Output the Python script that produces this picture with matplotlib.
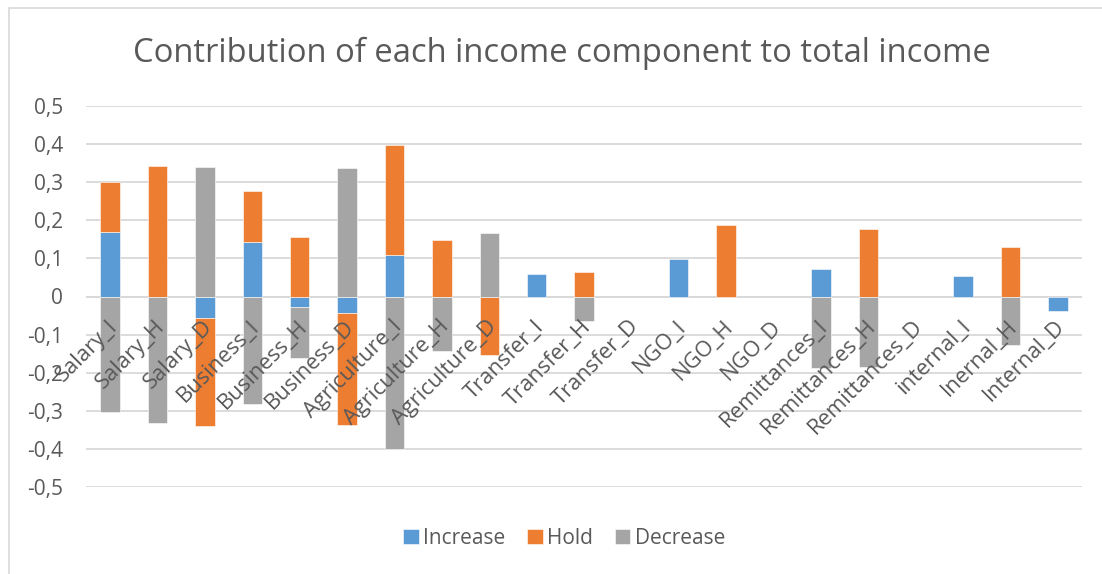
import numpy as np
import matplotlib.pyplot as plt
from matplotlib.patches import Rectangle

categories = ["Salary_I", "Salary_H", "Salary_D",
              "Business_I", "Business_H", "Business_D",
              "Agriculture_I", "Agriculture_H", "Agriculture_D",
              "Transfer_I", "Transfer_H", "Transfer_D",
              "NGO_I", "NGO_H", "NGO_D",
              "Remittances_I", "Remittances_H", "Remittances_D",
              "internal_I", "Inernal_H", "Internal_D"]

increase = [0.169, 0, -0.056, 0.142, -0.027, -0.043, 0.110, 0, 0,
            0.058, 0, 0, 0.098, 0, 0, 0.071, 0, 0, 0.055, 0, -0.037]
hold = [0.131, 0.343, -0.285, 0.135, 0.157, -0.293, 0.287, 0.149, -0.153,
        0, 0.063, 0, 0, 0.188, 0, 0, 0.178, 0, 0, 0.129, 0]
decrease = [-0.304, -0.333, 0.340, -0.282, -0.135, 0.336, -0.400, -0.142, 0.167,
            0, -0.064, 0, 0, 0, 0, -0.188, -0.185, 0, 0, -0.128, 0]

series = [("Increase", increase, "#5B9BD5"),
          ("Hold", hold, "#ED7D31"),
          ("Decrease", decrease, "#A5A5A5")]

yticks = [-0.5, -0.4, -0.3, -0.2, -0.1, 0, 0.1, 0.2, 0.3, 0.4, 0.5]

plt.rcParams['font.family'] = ['Open Sans', 'DejaVu Sans']
txt = "#595959"

fig = plt.figure(figsize=(11.02, 5.74), dpi=100)
ax = fig.add_axes([86.5 / 1102, 1 - 487 / 574, (1081.5 - 86.5) / 1102, (487 - 106) / 574])

# chart border like excel
fig.patches.append(Rectangle((9 / 1102, -0.05), 1.2, 1 - 8 / 574 + 0.05,
                             transform=fig.transFigure, fill=False,
                             edgecolor="#D9D9D9", lw=1.2))

x = np.arange(len(categories))
pos_base = np.zeros(len(categories))
neg_base = np.zeros(len(categories))
for name, vals, col in series:
    v = np.array(vals)
    bottom = np.where(v >= 0, pos_base, neg_base)
    nz = v != 0   # skip empty segments (avoid white slivers)
    ax.bar(x[nz], v[nz], 0.41, bottom=bottom[nz], color=col, label=name,
           edgecolor="white", linewidth=0.4, zorder=3)
    pos_base += np.where(v > 0, v, 0)
    neg_base += np.where(v < 0, v, 0)

ax.set_xlim(-0.5, len(categories) - 0.5)
ax.set_ylim(-0.5, 0.5)
ax.set_yticks(yticks)
ax.set_yticklabels([("%.1f" % t).replace(".", ",") if t != 0 else "0" for t in yticks],
                   fontsize=15, color=txt)
ax.tick_params(axis="y", length=0, pad=17)
ax.set_xticks([])
ax.grid(axis="y", color="#D9D9D9", lw=1.3, zorder=0)
for s in ax.spines.values():
    s.set_visible(False)
ax.axhline(0, color="#D9D9D9", lw=1.3, zorder=1)

# category labels sit just under the zero line, like excel's "next to axis"
for i, lab in enumerate(categories):
    ax.annotate(lab, xy=(i, 0), xytext=(-2.3, -14), textcoords="offset points",
                rotation=45, rotation_mode="anchor", ha="right", va="top",
                fontsize=15.8, color=txt, zorder=5)

fig.text(0.51, 1 - 53 / 574, "Contribution of each income component to total income",
         ha="center", va="center", fontsize=23.6, color=txt)

ax.legend(loc="center", bbox_to_anchor=(0.48, -0.135), ncol=3, frameon=False,
          fontsize=15, labelcolor=txt, handlelength=0.75, handleheight=0.75,
          handletextpad=0.2, columnspacing=1.05)

fig.savefig("out.png", dpi=100)
